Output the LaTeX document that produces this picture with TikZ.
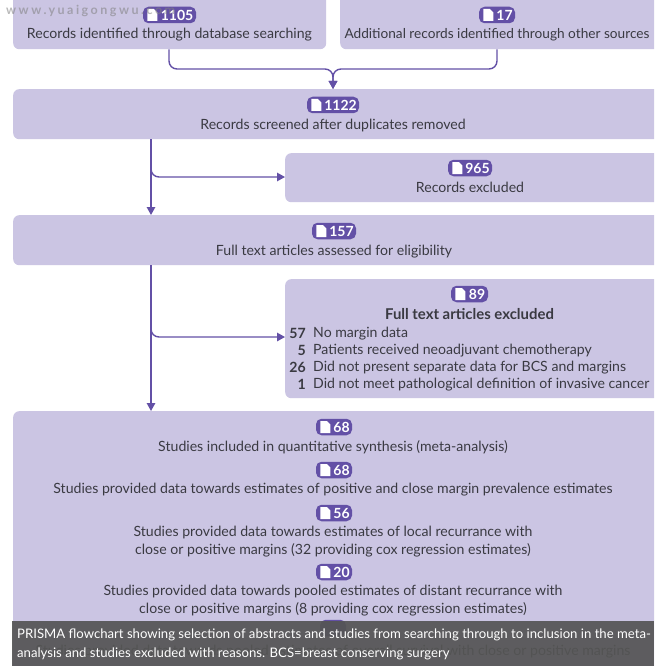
\documentclass[tikz,border=0pt]{standalone}
\usepackage{fontspec}
\setmainfont{Lato}
\usetikzlibrary{arrows.meta}
\definecolor{boxfill}{HTML}{CBC5E3}
\definecolor{linec}{HTML}{6350A6}
\definecolor{inkc}{HTML}{3A3A42}
\definecolor{bandc}{HTML}{555555}
\tikzset{
  x=1pt,y=-1pt,
  flowbox/.style={fill=boxfill,rounded corners=6pt,inner sep=0pt,anchor=north west},
  lbl/.style={text=inkc,font=\fontsize{14.1}{16}\selectfont,inner sep=0pt,anchor=center,yshift=-0.8pt},
  badgebox/.style={fill=linec,rounded corners=5.5pt,inner sep=0pt,minimum height=16.5pt,text=white,font=\fontsize{14}{15}\selectfont\bfseries},
  doc/.style={fill=white,draw=none},
  flowline/.style={draw=linec,line width=1.4pt,rounded corners=8pt},
  flowarrow/.style={flowline,-{Triangle[length=8pt,width=8.5pt]}},
  numlbl/.style={lbl,anchor=east,font=\fontsize{14.1}{16}\selectfont\bfseries},
  itemlbl/.style={lbl,anchor=west},
}
\newcommand{\mybadge}[4]{%
  \node[badgebox,minimum width=#4pt] (#1) at (#2) {\hspace*{16pt}#3\hspace*{1pt}};
  \fill[doc] ([xshift=4.5pt,yshift=6pt]#1.west) -- ++(6.5,0) -- ++(3.5,3.5) -- ++(0,8.5) -- ++(-10,0) -- cycle;
}
\begin{document}
\begin{tikzpicture}
\useasboundingbox (0,0) rectangle (654,666);
\fill[white] (0,0) rectangle (654,666);
% boxes
\begin{scope}
\clip (0,0) rectangle (654,666);
\node[flowbox,minimum width=313pt,minimum height=59pt] (a) at (13,-10) {};
\node[flowbox,minimum width=320pt,minimum height=59pt] (b) at (340,-10) {};
\node[flowbox,minimum width=647pt,minimum height=50pt] (c) at (13,89) {};
\node[flowbox,minimum width=375pt,minimum height=49pt] (d) at (285,153) {};
\node[flowbox,minimum width=647pt,minimum height=50pt] (e) at (13,215) {};
\node[flowbox,minimum width=375pt,minimum height=119pt] (f) at (285,279) {};
\node[flowbox,minimum width=647pt,minimum height=265pt] (g) at (13,411) {};
\end{scope}
% connectors
\coordinate (mid) at (333,69);
\coordinate (cd) at (151,177);
\coordinate (ef) at (151,337);
\draw[flowarrow] (a.south -| 169,0) |- (mid) -- (c.north -| mid);
\draw[flowarrow] (b.south -| 497,0) |- (mid) -- (c.north -| mid);
\draw[flowarrow] (c.south -| cd) -- (e.north -| cd);
\draw[flowarrow] (cd |- 0,160) |- (d.west |- cd);
\draw[flowarrow] (e.south -| ef) -- (g.north -| ef);
\draw[flowarrow] (ef |- 0,320) |- (f.west |- ef);
% text
\mybadge{ba}{169.5,15}{1105}{53}
\node[lbl] (ta) at (169.5,33.5) {Records identified through database searching};
\mybadge{bb}{497,15}{17}{36}
\node[lbl,font=\fontsize{13.65}{16}\selectfont] (tb) at (497,33.5) {Additional records identified through other sources};
\mybadge{bc}{333,105}{1122}{52}
\node[lbl] (tc) at (333,124.5) {Records screened after duplicates removed};
\mybadge{bd}{470,168}{965}{44}
\node[lbl] (td) at (470,187) {Records excluded};
\mybadge{be}{334,231}{157}{44}
\node[lbl] (te) at (334,250.5) {Full text articles assessed for eligibility};
\mybadge{bf}{469.5,294}{89}{37}
\node[lbl,font=\fontsize{14.9}{16}\selectfont\bfseries] (tf) at (469.5,313) {Full text articles excluded};
\node[numlbl] (n1) at (306,332.5) {57};
\node[itemlbl] (i1) at (313,332.5) {No margin data};
\node[numlbl] (n2) at (306,349.5) {5};
\node[itemlbl] (i2) at (313,349.5) {Patients received neoadjuvant chemotherapy};
\node[numlbl] (n3) at (306,366.5) {26};
\node[itemlbl] (i3) at (313,366.5) {Did not present separate data for BCS and margins};
\node[numlbl] (n4) at (306,383.5) {1};
\node[itemlbl] (i4) at (313,383.5) {Did not meet pathological definition of invasive cancer};
\mybadge{bg1}{334,427}{68}{36}
\node[lbl] (g1) at (333,446) {Studies included in quantitative synthesis (meta-analysis)};
\mybadge{bg2}{334,470}{68}{36}
\node[lbl] (g2) at (333,489) {Studies provided data towards estimates of positive and close margin prevalence estimates};
\mybadge{bg3}{334,513}{56}{36}
\node[lbl] (g3a) at (333,532) {Studies provided data towards estimates of local recurrance with};
\node[lbl] (g3b) at (333,549.5) {close or positive margins (32 providing cox regression estimates)};
\mybadge{bg4}{334,572}{20}{36}
\node[lbl] (g4a) at (333,591) {Studies provided data towards pooled estimates of distant recurrance with};
\node[lbl] (g4b) at (333,608.5) {close or positive margins (8 providing cox regression estimates)};
\node[badgebox,minimum width=26pt] (bg5) at (333,628) {};
\node[lbl] (g5) at (333,651) {Studies provided data towards pooled estimates of overall survival with close or positive margins};
% watermark
\node[inner sep=0pt,anchor=west,text=gray,opacity=.55,font=\fontsize{12.5}{13}\selectfont\bfseries\addfontfeature{LetterSpace=20}] (wm) at (6,11) {www.yuaigongwu.com};
% caption band
\fill[bandc,opacity=.93] (12,621) rectangle (654,666);
\node[inner sep=0pt,anchor=west,text=white,font=\fontsize{13.15}{15}\selectfont] (cap1) at (17,634.5) {PRISMA flowchart showing selection of abstracts and studies from searching through to inclusion in the meta-};
\node[inner sep=0pt,anchor=west,text=white,font=\fontsize{13.15}{15}\selectfont] (cap2) at (17,653.5) {analysis and studies excluded with reasons. BCS=breast conserving surgery};
\end{tikzpicture}
\end{document}
